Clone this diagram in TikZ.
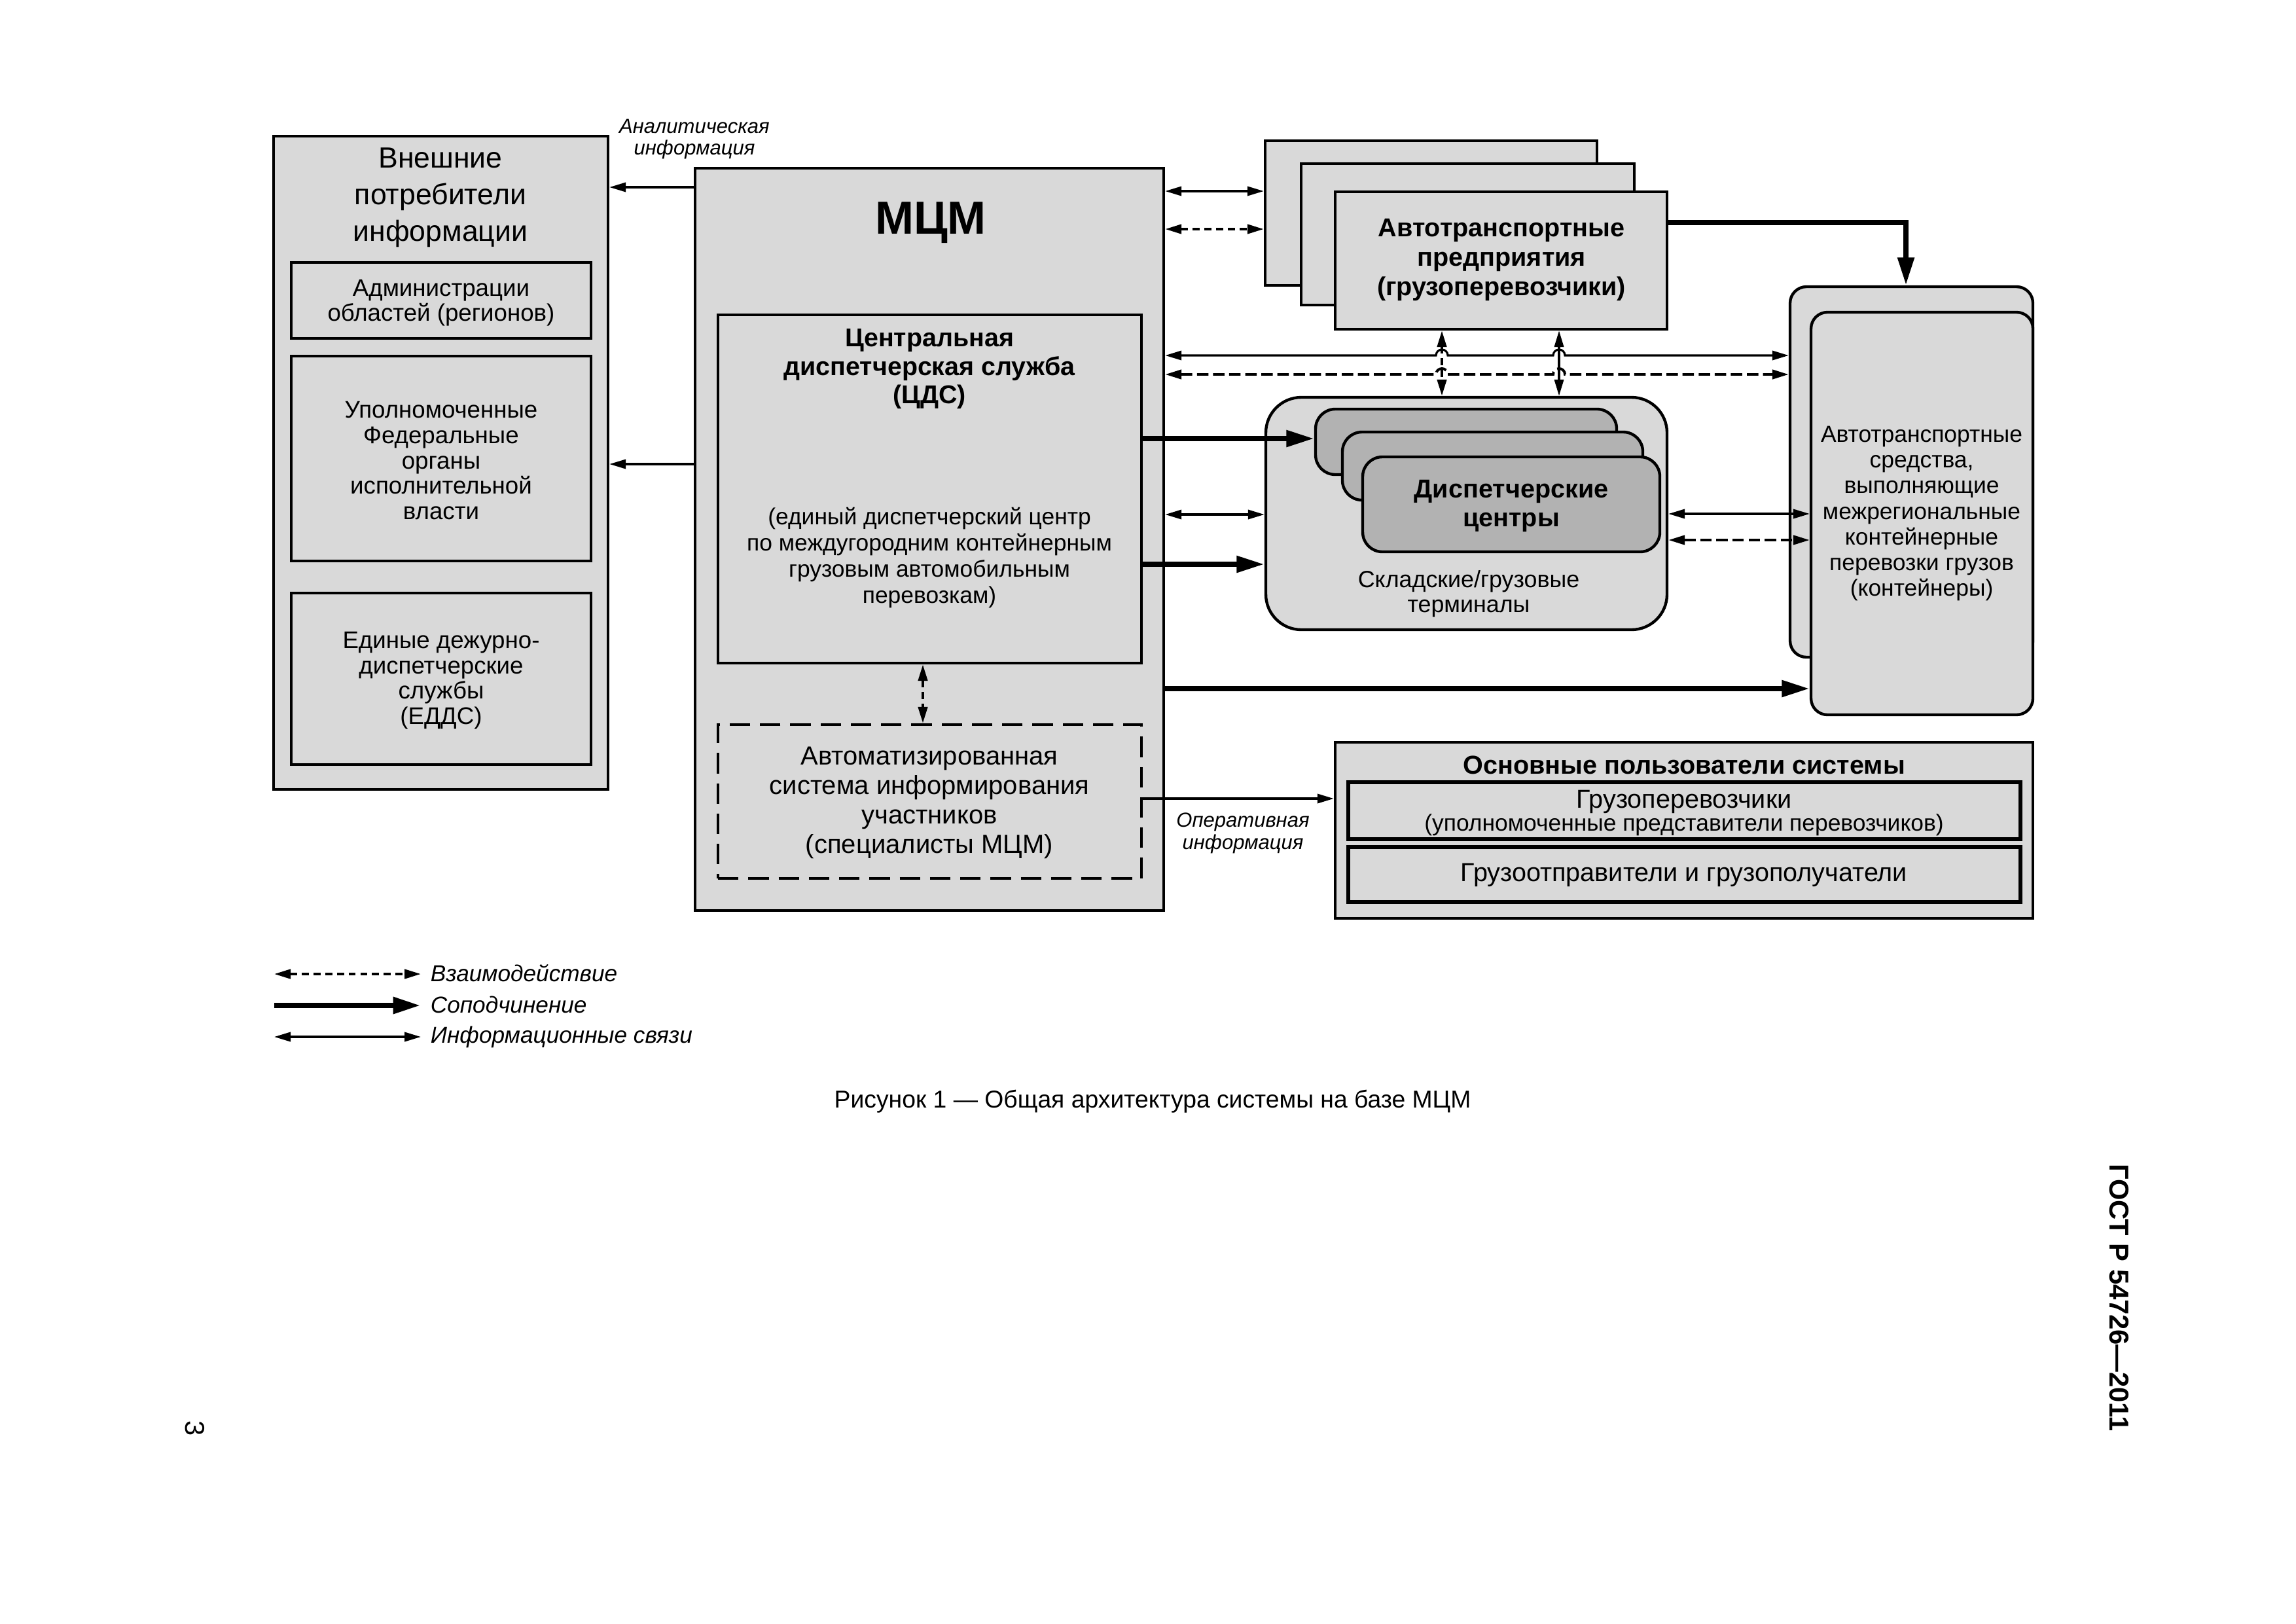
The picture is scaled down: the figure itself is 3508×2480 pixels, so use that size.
\documentclass[tikz,border=0pt]{standalone}
\usepackage{fontspec}
\setmainfont{Liberation Sans}
\usetikzlibrary{arrows.meta,fit}
\definecolor{lg}{RGB}{217,217,217}
\definecolor{dg}{RGB}{178,178,178}
\newcommand{\fsz}[2]{\fontsize{#1pt}{#2pt}\selectfont}
\begin{document}
\begin{tikzpicture}[x=0.24pt,y=-0.24pt,
  box/.style={draw, line width=1.05pt, fill=lg, inner sep=0pt},
  rbox/.style={box, rounded corners=6pt},
  dbox/.style={draw, line width=1.05pt, fill=dg, inner sep=0pt, rounded corners=7.2pt},
  dashbox/.style={draw, line width=1.05pt, dash pattern=on 7.5pt off 3.6pt, inner sep=0pt},
  txt/.style={align=center, inner sep=0pt, yshift=-1.1pt},
  lbl/.style={align=center, inner sep=0pt, yshift=-0.6pt, font=\fsz{7.45}{8.1}\itshape},
  info/.style={line width=0.75pt, {Triangle[length=6pt,width=3.4pt]}-{Triangle[length=6pt,width=3.4pt]}},
  infoone/.style={line width=0.75pt, -{Triangle[length=6pt,width=3.4pt]}},
  inter/.style={line width=0.95pt, dash pattern=on 2.6pt off 1.7pt, {Triangle[length=6pt,width=3.4pt]}-{Triangle[length=6pt,width=3.4pt]}},
  interlong/.style={inter, dash pattern=on 4.2pt off 1.7pt},
  sub/.style={line width=1.9pt, -{Triangle[length=10.2pt,width=5.8pt]}},
  leg/.style={anchor=west, inner sep=0pt, font=\fsz{8.45}{9.5}\itshape}
]
\path[use as bounding box, fill=white] (0,0) rectangle (3508,2480);

% ---------- left box: external consumers ----------
\node[box, fit={(418,208) (929,1206)}] (ext) {};
\node[box, fit={(445,401) (903,517)}] (adm) {};
\node[box, fit={(445,544) (903,857)}] (fed) {};
\node[box, fit={(445,906) (903,1168)}] (edds) {};
\node[txt, font=\fsz{10.7}{13.5}] (extT) at (673,297) {Внешние\\потребители\\информации};
\node[txt, font=\fsz{8.8}{9.3}] (admT) at (674,458) {Администрации\\областей (регионов)};
\node[txt, font=\fsz{8.8}{9.3}] (fedT) at (674,699) {Уполномоченные\\Федеральные\\органы\\исполнительной\\власти};
\node[txt, font=\fsz{8.8}{9.3}] (eddsT) at (674,1035) {Единые дежурно-\\диспетчерские\\службы\\(ЕДДС)};

% ---------- MCM ----------
\node[box, fit={(1062,257) (1778,1391)}] (mcm) {};
\node[txt, font=\fsz{17}{20}\bfseries] (mcmT) at (1422,336) {МЦМ};
\node[box, fit={(1097,481) (1744,1013)}] (cds) {};
\node[txt, font=\fsz{9.45}{10.5}\bfseries] (cdsT1) at (1420,559) {Центральная\\диспетчерская служба\\(ЦДС)};
\node[txt, font=\fsz{8.5}{9.6}] (cdsT2) at (1420,847) {(единый диспетчерский центр\\по междугородним контейнерным\\грузовым автомобильным\\перевозкам)};
\node[dashbox, fit={(1097,1107) (1744,1342)}] (asi) {};
\node[txt, font=\fsz{9.6}{10.8}] (asiT) at (1420,1222) {Автоматизированная\\система информирования\\участников\\(специалисты МЦМ)};

% ---------- transport enterprises ----------
\node[box, fit={(1933,215) (2440,436)}] (atpb) {};
\node[box, fit={(1988,250) (2497,466)}] (atpm) {};
\node[box, fit={(2040,293) (2547,503)}] (atpf) {};
\node[txt, font=\fsz{9.5}{10.8}\bfseries] (atpT) at (2294,392) {Автотранспортные\\предприятия\\(грузоперевозчики)};

% ---------- terminals ----------
\node[box, rounded corners=13pt, fit={(1934,607) (2547,962)}] (term) {};
\node[dbox, fit={(2010,625) (2470,725)}] (dispb) {};
\node[dbox, fit={(2051,660) (2510,764)}] (dispm) {};
\node[dbox, fit={(2082,698) (2536,843)}] (dispf) {};
\node[txt, font=\fsz{9.5}{10.6}\bfseries] (dispT) at (2309,768) {Диспетчерские\\центры};
\node[txt, font=\fsz{8.6}{9.1}] (termT) at (2244,903) {Складские/грузовые\\терминалы};

% ---------- vehicles ----------
\node[rbox, fit={(2735,438) (3106,1004)}] (rback) {};
\node[rbox, fit={(2767,477) (3106,1092)}] (rfront) {};
\node[txt, font=\fsz{8.5}{9.4}] (rT) at (2936,780) {Автотранспортные\\средства,\\выполняющие\\межрегиональные\\контейнерные\\перевозки грузов\\(контейнеры)};

% ---------- users ----------
\node[box, fit={(2040,1134) (3106,1403)}] (users) {};
\node[txt, font=\fsz{9.5}{11}\bfseries] (usersT) at (2573,1164) {Основные пользователи системы};
\node[box, line width=1.3pt, fit={(2060,1195) (3087,1282)}] (u1) {};
\node[box, line width=1.3pt, fit={(2060,1294) (3087,1378)}] (u2) {};
\node[txt, font=\fsz{9.5}{10}] (u1a) at (2573,1220) {Грузоперевозчики};
\node[txt, font=\fsz{8.5}{9.5}] (u1b) at (2573,1256) {(уполномоченные представители перевозчиков)};
\node[txt, font=\fsz{9.5}{10}] (u2T) at (2573,1332) {Грузоотправители и грузополучатели};

% ---------- connectors ----------
\draw[infoone] (mcm.west |- 0,286) -- (ext.east |- 0,286);
\draw[infoone] (mcm.west |- 0,709) -- (ext.east |- 0,709);
\node[lbl] (anL) at (1061,210) {Аналитическая\\информация};

\draw[info] (mcm.east |- 0,292) -- (atpb.west |- 0,292);
\draw[inter] (mcm.east |- 0,350) -- (atpb.west |- 0,350);

\draw[inter] (2203,0 |- atpf.south) -- (2203,0 |- term.north);
\draw[info] (2382,0 |- atpf.south) -- (2382,0 |- term.north);

\draw[info] (mcm.east |- 0,543) -- (2194,543) arc[start angle=180,end angle=360,radius=9]
   -- (2373,543) arc[start angle=180,end angle=360,radius=9] -- (rback.west |- 0,543);
\draw[interlong] (mcm.east |- 0,572) -- (2194,572) arc[start angle=180,end angle=360,radius=9]
   -- (2373,572) arc[start angle=180,end angle=360,radius=9] -- (rback.west |- 0,572);

\draw[sub] (atpf.east |- 0,340) -| (2912,0 |- rback.north);

\draw[sub] (cds.east |- 0,670) -- (dispb.west |- 0,670);
\draw[info] (mcm.east |- 0,786) -- (term.west |- 0,786);
\draw[sub] (cds.east |- 0,862) -- (term.west |- 0,862);
\draw[sub] (mcm.east |- 0,1052) -- (rfront.west |- 0,1052);
\draw[info] (term.east |- 0,785) -- (rfront.west |- 0,785);
\draw[interlong] (term.east |- 0,825) -- (rfront.west |- 0,825);

\draw[inter] (1410,0 |- cds.south) -- (1410,0 |- asi.north);
\draw[infoone] (asi.east |- 0,1220) -- (users.west |- 0,1220);
\node[lbl] (opL) at (1899,1270) {Оперативная\\информация};

% ---------- legend ----------
\coordinate (l1a) at (419,1488); \coordinate (l1b) at (643,1488);
\coordinate (l2a) at (419,1536); \coordinate (l2b) at (643,1536);
\coordinate (l3a) at (419,1584); \coordinate (l3b) at (643,1584);
\draw[inter] (l1a) -- (l1b);
\draw[sub, line width=2.1pt] (l2a) -- (l2b);
\draw[info] (l3a) -- (l3b);
\node[leg] (l1t) at (657,1487) {Взаимодействие};
\node[leg] (l2t) at (657,1535) {Соподчинение};
\node[leg] (l3t) at (657,1584) {Информационные связи};

% ---------- caption, header, page ----------
\node[txt, font=\fsz{8.95}{10.5}] (cap) at (1761,1678) {Рисунок 1 — Общая архитектура системы на базе МЦМ};
\node[txt, font=\fsz{10}{12}\bfseries, rotate=-90, yshift=0pt] (gost) at (3238,1978) {ГОСТ Р 54726—2011};
\node[txt, font=\fsz{10}{12}, rotate=-90, yshift=0pt] (page) at (298,2177) {3};
\end{tikzpicture}
\end{document}
